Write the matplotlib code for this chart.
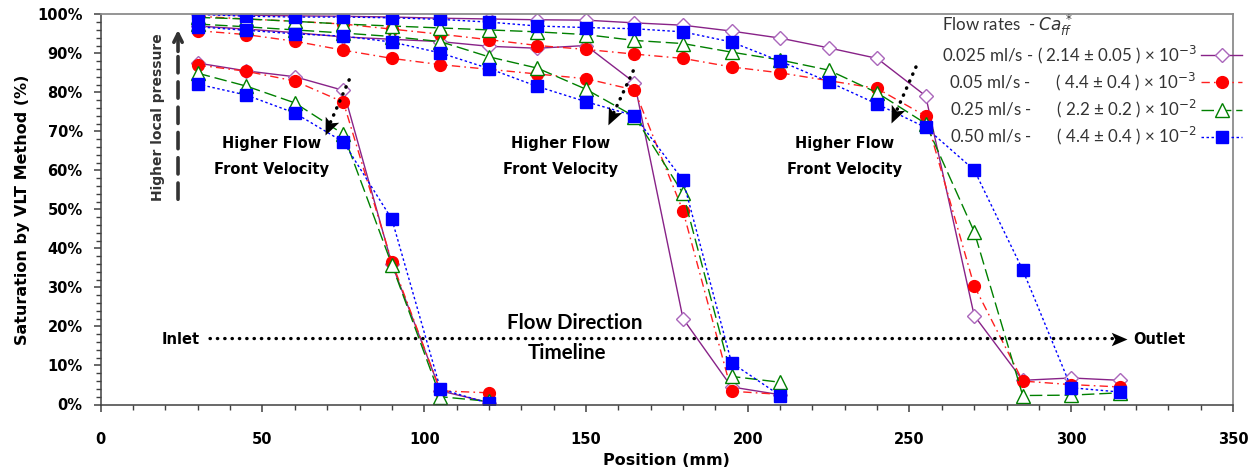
import numpy as np
import matplotlib.pyplot as plt
from matplotlib.ticker import MultipleLocator, PercentFormatter

# posiciones de medida (mm) para los tres instantes del frente de flujo
pos_t1 = [30, 45, 60, 75, 90, 105, 120]
pos_t2 = [30, 45, 60, 75, 90, 105, 120, 135, 150, 165, 180, 195, 210]
pos_t3 = [30, 45, 60, 75, 90, 105, 120, 135, 150, 165, 180, 195, 210,
          225, 240, 255, 270, 285, 300, 315]

# saturacion (%) - 0.025 ml/s
sat_025_t1 = [87.5, 85.5, 84.0, 80.5, 36.0, 3.5, 0.5]
sat_025_t2 = [97.0, 96.2, 95.3, 94.2, 93.6, 93.0, 91.8, 91.3, 92.0, 82.5, 22.0, 4.5, 2.5]
sat_025_t3 = [100.0, 99.8, 99.6, 99.5, 99.3, 99.0, 98.8, 98.6, 98.5, 97.8, 97.2, 95.7,
              93.9, 91.4, 88.7, 79.1, 22.8, 6.2, 6.8, 6.2]

# 0.05 ml/s
sat_05_t1 = [87.0, 85.4, 82.9, 77.5, 36.6, 3.5, 3.0]
sat_05_t2 = [95.8, 94.8, 93.1, 90.8, 88.7, 87.1, 85.9, 84.7, 83.5, 80.6, 49.6, 3.4, 2.6]
sat_05_t3 = [99.5, 98.8, 98.2, 97.5, 96.2, 94.9, 93.5, 92.0, 91.0, 89.8, 88.7, 86.5,
             85.0, 83.0, 81.0, 73.9, 30.4, 6.0, 5.1, 4.5]

# 0.25 ml/s
sat_25_t1 = [84.9, 81.6, 77.3, 69.3, 35.8, 2.0, 0.8]
sat_25_t2 = [97.5, 96.8, 96.0, 95.2, 94.3, 93.0, 89.1, 86.2, 80.8, 73.8, 54.1, 7.2, 5.7]
sat_25_t3 = [99.2, 98.8, 98.2, 97.5, 97.0, 96.5, 96.0, 95.5, 94.8, 93.3, 92.5, 90.3,
             88.3, 85.7, 79.9, 72.0, 44.3, 2.3, 2.4, 3.0]

# 0.50 ml/s
sat_50_t1 = [82.1, 79.3, 74.7, 67.3, 47.5, 4.0, 0.3]
sat_50_t2 = [96.8, 95.9, 95.0, 94.4, 92.9, 90.1, 86.1, 81.5, 77.6, 74.0, 57.5, 10.7, 2.3]
sat_50_t3 = [100.0, 99.5, 99.3, 99.3, 99.1, 98.7, 98.0, 97.0, 96.6, 96.3, 95.5, 92.9,
             88.0, 82.7, 77.0, 71.0, 60.1, 34.5, 4.3, 3.2]

etiquetas = [
    '0.025 ml/s - ( 2.14 ± 0.05 ) × 10$^{-3}$',
    '0.05 ml/s -      ( 4.4 ± 0.4 ) × 10$^{-3}$',
    '0.25 ml/s -      ( 2.2 ± 0.2 ) × 10$^{-2}$',
    '0.50 ml/s -      ( 4.4 ± 0.4 ) × 10$^{-2}$',
]

series = [
    ([sat_025_t1, sat_025_t2, sat_025_t3],
     dict(color='#882288', ls='-', marker='D', ms=7.5, mfc='white', mec='#aa66bb', mew=1.0)),
    ([sat_05_t1, sat_05_t2, sat_05_t3],
     dict(color='#ff2020', ls=(0, (6, 3, 1.2, 3)), marker='o', ms=8.5, mfc='red', mec='red')),
    ([sat_25_t1, sat_25_t2, sat_25_t3],
     dict(color='#008000', ls=(0, (9, 3.5)), marker='^', ms=9.5, mfc='white', mec='#008000', mew=1.0)),
    ([sat_50_t1, sat_50_t2, sat_50_t3],
     dict(color='#0000ff', ls=(0, (1.8, 1.8)), marker='s', ms=8.5, mfc='#0000ff', mec='#0000ff')),
]
posiciones = [pos_t1, pos_t2, pos_t3]

fig = plt.figure(figsize=(12.6, 4.76), dpi=100)
ax = fig.add_axes([100.7 / 1260, 1 - 404.5 / 476, (1233 - 100.7) / 1260, (404.5 - 14.3) / 476])

handles = []
for curvas, estilo in series:
    for x, y in zip(posiciones, curvas):
        ln, = ax.plot(x, y, lw=1.0, **estilo)
    handles.append(ln)

ax.set_xlim(0, 350)
ax.set_ylim(0, 100)
ax.xaxis.set_major_locator(MultipleLocator(50))
ax.xaxis.set_minor_locator(MultipleLocator(10))
ax.yaxis.set_major_locator(MultipleLocator(10))
ax.yaxis.set_minor_locator(MultipleLocator(2))
ax.yaxis.set_major_formatter(PercentFormatter(decimals=0))

ax.tick_params(which='major', direction='out', length=5, width=1.1, color='#404040')
ax.tick_params(which='minor', direction='out', length=3.5, width=1.0, color='#404040')
ax.tick_params(axis='x', which='major', pad=14.5)
ax.tick_params(axis='y', which='major', pad=8)
for lab in ax.get_xticklabels() + ax.get_yticklabels():
    lab.set_fontweight('bold')
    lab.set_fontsize(10.5)

for s in ['left', 'bottom']:
    ax.spines[s].set_color('#404040')
    ax.spines[s].set_linewidth(1.1)
for s in ['top', 'right']:
    ax.spines[s].set_color('#8c8c8c')
    ax.spines[s].set_linewidth(1.3)

ax.set_xlabel('Position (mm)', fontsize=11.5, fontweight='bold')
ax.set_ylabel('Saturation by VLT Method (%)', fontsize=11.5, fontweight='bold')
ax.xaxis.set_label_coords(0.5, -0.125)
ax.yaxis.set_label_coords(-0.062, 0.5)

# leyenda con la muestra de linea a la derecha
leg = ax.legend(handles, etiquetas, title='Flow rates  - $Ca^{\\,*}_{ff}$',
                loc='upper right', bbox_to_anchor=(1.008, 1.003), frameon=False,
                markerfirst=False, alignment='left',
                prop={'family': 'Lato', 'size': 12.2},
                title_fontproperties={'family': 'Lato', 'size': 12.2},
                handlelength=2.4, handletextpad=0.3, labelspacing=0.3,
                borderpad=0, borderaxespad=0, labelcolor='#333333')
leg.get_title().set_color('#333333')

# punta de flecha con muesca, apuntando hacia +y
punta = np.array([[0, 1], [-0.75, -0.75], [0, -0.35], [0.75, -0.75], [0, 1]])


def flecha_punteada(x0, y0, x1, y1, lw, ms):
    # linea de puntos y punta girada segun la direccion en pixeles
    p0 = ax.transData.transform((x0, y0))
    p1 = ax.transData.transform((x1, y1))
    u = (p1 - p0) / np.hypot(*(p1 - p0))
    rot = np.arctan2(u[1], u[0]) - np.pi / 2
    R = np.array([[np.cos(rot), -np.sin(rot)], [np.sin(rot), np.cos(rot)]])
    v = punta @ R.T
    escala = np.abs(v).max()
    dist = ms * fig.dpi / 72 * 0.5 / escala
    centro = ax.transData.inverted().transform(p1 - u * dist)
    ax.annotate('', xy=centro, xytext=(x0, y0),
                arrowprops=dict(arrowstyle='-', lw=lw, ls=(0, (0.1, 2.1)), color='black',
                                capstyle='round', shrinkA=0, shrinkB=0))
    ax.plot(centro[0], centro[1], marker=v, ms=ms, color='black', mew=0)


# flechas del frente de flujo
for x0, y0, x1, y1 in [(76.8, 83.2, 69.3, 69.1), (164.6, 85.5, 156.8, 71.6),
                       (252.0, 86.5, 244.3, 72.1)]:
    flecha_punteada(x0, y0, x1, y1, 2.5, 14)

for xc in [52.7, 142.0, 230.0]:
    ax.text(xc, 66.8, 'Higher Flow', ha='center', va='center', fontsize=10.5, fontweight='bold')
    ax.text(xc, 60.3, 'Front Velocity', ha='center', va='center', fontsize=10.5, fontweight='bold')

# presion local: flecha discontinua hacia arriba
ax.annotate('', xy=(23.9, 89.5), xytext=(23.9, 52.6),
            arrowprops=dict(arrowstyle='-', lw=2.6, ls=(0, (4.5, 2.5)), color='#333333',
                            shrinkA=0, shrinkB=0))
ax.annotate('', xy=(23.9, 96.0), xytext=(23.9, 90.5),
            arrowprops=dict(arrowstyle='->,head_length=0.6,head_width=0.3', lw=2.6,
                            color='#333333', shrinkA=0, shrinkB=0))
ax.text(17.7, 73.6, 'Higher local pressure', rotation=90, ha='center', va='center',
        fontsize=10, fontweight='bold', color='#333333')

# direccion del flujo
flecha_punteada(33.8, 16.9, 317.3, 16.9, 2.4, 13)
ax.text(30.7, 16.6, 'Inlet', ha='right', va='center', fontsize=10.5, fontweight='bold')
ax.text(319.1, 16.6, 'Outlet', ha='left', va='center', fontsize=10.5, fontweight='bold')
ax.text(146.6, 21.0, 'Flow Direction', ha='center', va='center', fontsize=14.8,
        fontfamily='Lato', fontweight='bold')
ax.text(144.1, 13.3, 'Timeline', ha='center', va='center', fontsize=14.8,
        fontfamily='Lato', fontweight='bold')

fig.savefig('out.png', dpi=100)
